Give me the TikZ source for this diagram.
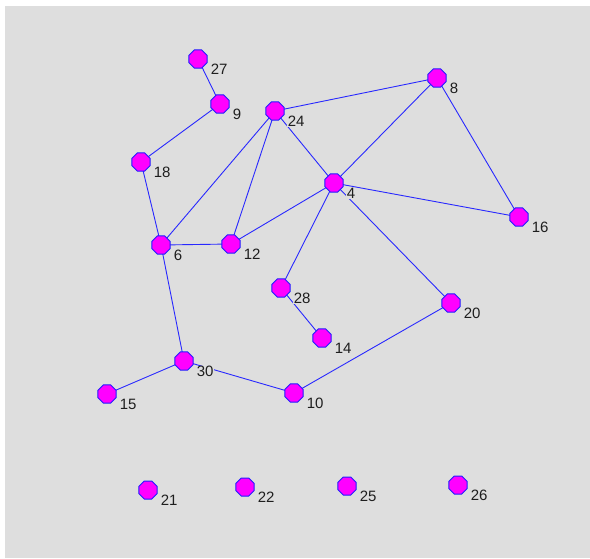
\documentclass[tikz,border=0pt]{standalone}
\usepackage{fontspec}
\setmainfont{Liberation Sans}
\usetikzlibrary{shapes.geometric}
\definecolor{bggray}{RGB}{222,222,222}
\definecolor{edgeblue}{RGB}{40,40,255}
\definecolor{nodeblue}{RGB}{30,30,255}
\definecolor{nodefill}{RGB}{255,0,255}
\definecolor{labeltext}{RGB}{30,30,30}
\pgfdeclarelayer{bg}
\pgfdeclarelayer{edges}
\pgfdeclarelayer{labels}
\pgfsetlayers{bg,edges,labels,main}
\begin{document}
\begin{tikzpicture}[x=1pt,y=-1pt,
  vtx/.style={regular polygon,regular polygon sides=8,minimum size=19.5pt,inner sep=0pt,
    fill=nodefill,draw=nodeblue,line width=1pt},
  lbl/.style={anchor=west,inner sep=0.6pt,fill=bggray,text=labeltext,font=\fontsize{15}{15}\selectfont},
  edge/.style={draw=edgeblue,line width=0.9pt}]
\begin{pgfonlayer}{bg}
\fill[white] (0,0) rectangle (590,558);
\fill[bggray] (5,6) rectangle (590,558);
\end{pgfonlayer}
\useasboundingbox (0,0) rectangle (590,558);
\foreach \n/\x/\y in {27/198/59, 9/220/104, 24/275/111, 8/437/78, 18/141/162, 4/334/183,
  16/519/217, 6/161/245, 12/231/244, 28/281/288, 20/451/303, 14/322/338, 30/184/361,
  15/107/394, 10/294/393, 21/148/490, 22/245/487, 25/347/486, 26/458/485}{
  \node[vtx] (v\n) at (\x,\y) {};
  \begin{pgfonlayer}{labels}
  \node[lbl] (l\n) at ([xshift=12pt,yshift=-10.5pt]v\n.center) {\n};
  \end{pgfonlayer}
}
\begin{pgfonlayer}{edges}
\foreach \a/\b in {27/9, 9/18, 18/6, 6/24, 6/12, 24/12, 24/8, 24/4, 12/4, 8/4, 8/16,
  4/16, 4/28, 4/20, 28/14, 6/30, 30/15, 30/10, 10/20}{
  \draw[edge] (v\a.center) -- (v\b.center);
}
\end{pgfonlayer}
\end{tikzpicture}
\end{document}
